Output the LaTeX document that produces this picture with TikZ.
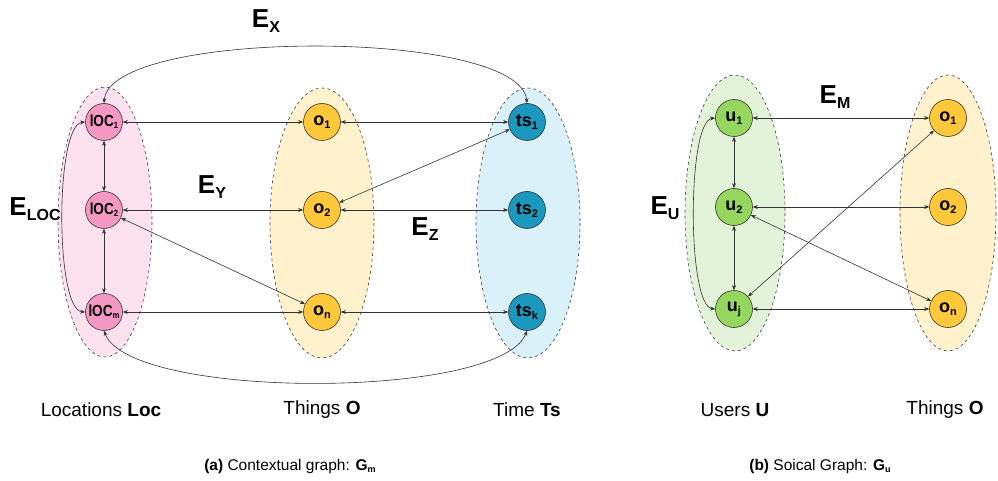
\documentclass[tikz,border=0pt]{standalone}
\usepackage{fontspec}
\setmainfont{Liberation Sans}
\usetikzlibrary{arrows.meta}
\definecolor{pinkbg}{HTML}{FCE1EE}
\definecolor{pinknode}{HTML}{F497C2}
\definecolor{orangebg}{HTML}{FFF2CC}
\definecolor{orangenode}{HTML}{FFC83A}
\definecolor{bluebg}{HTML}{DBF1FA}
\definecolor{bluenode}{HTML}{1A98BE}
\definecolor{greenbg}{HTML}{E3F3D9}
\definecolor{greennode}{HTML}{95D65E}
\definecolor{edgecol}{HTML}{333333}
\newcommand\lsub[1]{\raisebox{-3pt}{\fontsize{11}{11}\selectfont #1}}
\newcommand\locsub[1]{\raisebox{-2pt}{\fontsize{9}{9}\selectfont #1}}
\newcommand\Elab[1]{{\fontsize{26}{26}\selectfont\bfseries E}\raisebox{-5pt}{\fontsize{16}{16}\selectfont\bfseries #1}}
\begin{document}
\begin{tikzpicture}[x=1pt,y=-1pt,
  grp/.style={draw=black!75, dashed, line width=0.6pt},
  vtx/.style={circle, draw=black!80, line width=0.6pt, minimum size=37pt, inner sep=0pt, font=\fontsize{18}{18}\selectfont\bfseries},
  locvtx/.style={vtx, fill=pinknode, font=\fontsize{16}{16}\selectfont\bfseries},
  conn/.style={draw=edgecol, line width=0.6pt, {Stealth[length=5pt,width=4pt]}-{Stealth[length=5pt,width=4pt]}},
  elab/.style={inner sep=0pt},
  grplab/.style={inner sep=0pt, font=\fontsize{19}{19}\selectfont},
  captxt/.style={inner sep=0pt, font=\fontsize{15.5}{15.5}\selectfont}
]
\useasboundingbox (0,0) rectangle (998,481);

% group ellipses
\path[grp, fill=pinkbg] (105,222) ellipse [x radius=47, y radius=135];
\path[grp, fill=orangebg] (322,223) ellipse [x radius=52, y radius=135];
\path[grp, fill=bluebg] (528,223) ellipse [x radius=52, y radius=135];
\path[grp, fill=greenbg] (735,213) ellipse [x radius=50, y radius=138];
\path[grp, fill=orangebg] (948,213) ellipse [x radius=48, y radius=138];

% (a) nodes
\node[locvtx] (loc1) at (104,122) {\scalebox{0.85}[1]{l\kern-0.3ptOC\locsub{1}}};
\node[locvtx] (loc2) at (104,210) {\scalebox{0.85}[1]{l\kern-0.3ptOC\locsub{2}}};
\node[locvtx] (locm) at (104,312) {\scalebox{0.85}[1]{l\kern-0.3ptOC\locsub{m}}};
\node[vtx, fill=orangenode] (o1) at (322,122) {o\lsub{1}};
\node[vtx, fill=orangenode] (o2) at (322,210) {o\lsub{2}};
\node[vtx, fill=orangenode] (on) at (322,312) {o\lsub{n}};
\node[vtx, fill=bluenode] (ts1) at (527,122) {ts\lsub{1}};
\node[vtx, fill=bluenode] (ts2) at (527,210) {ts\lsub{2}};
\node[vtx, fill=bluenode] (tsk) at (527,312) {ts\lsub{k}};

% (b) nodes
\node[vtx, fill=greennode] (u1) at (734,118) {u\lsub{1}};
\node[vtx, fill=greennode] (u2) at (734,207) {u\lsub{2}};
\node[vtx, fill=greennode] (uj) at (734,309) {u\lsub{j}};
\node[vtx, fill=orangenode] (uo1) at (948,118) {o\lsub{1}};
\node[vtx, fill=orangenode] (uo2) at (948,207) {o\lsub{2}};
\node[vtx, fill=orangenode] (uon) at (948,309) {o\lsub{n}};

% (a) edges
\draw[conn] (loc1) -- (o1);
\draw[conn] (o1) -- (ts1);
\draw[conn] (loc2) -- (o2);
\draw[conn] (o2) -- (ts2);
\draw[conn] (locm) -- (on);
\draw[conn] (on) -- (tsk);
\draw[conn] (loc1) -- (loc2);
\draw[conn] (loc2) -- (locm);
\draw[conn] (ts1) -- (o2);
\draw[conn] (loc2) -- (on);
\draw[conn] (loc1.north) .. controls (110,28) and (520,28) .. (ts1.north);
\draw[conn] (locm.south) .. controls (130,400) and (500,400) .. (tsk.south);
\draw[conn] (loc1.west) .. controls (55,125) and (55,310) .. (locm.west);

% (b) edges
\draw[conn] (u1) -- (uo1);
\draw[conn] (u2) -- (uo2);
\draw[conn] (uj) -- (uon);
\draw[conn] (u1) -- (u2);
\draw[conn] (u2) -- (uj);
\draw[conn] (uo1) -- (uj);
\draw[conn] (u2) -- (uon);
\draw[conn] (u1.west) .. controls (687,121) and (687,306) .. (uj.west);

% edge labels
\node[elab] (ex) at (266,21) {\Elab{X}};
\node[elab] (eloc) at (35,209) {\Elab{LOC}};
\node[elab] (ey) at (212,187) {\Elab{Y}};
\node[elab] (ez) at (425,229) {\Elab{Z}};
\node[elab] (em) at (835,97) {\Elab{M}};
\node[elab] (eu) at (665,208) {\Elab{U}};

% group labels
\node[grplab] (glloc) at (101,410) {Locations \textbf{Loc}};
\node[grplab] (glo) at (322,410) {Things \textbf{O}};
\node[grplab] (glts) at (527,410) {Time \textbf{Ts}};
\node[grplab] (glu) at (735,410) {Users \textbf{U}};
\node[grplab] (glo2) at (945,410) {Things \textbf{O}};

% captions
\node[captxt] (capa) at (290,466) {\textbf{(a)} Contextual graph: \textbf{G}\locsub{\textbf{m}}};
\node[captxt] (capb) at (820,466) {\textbf{(b)} Soical Graph: \textbf{G}\locsub{\textbf{u}}};
\end{tikzpicture}
\end{document}
